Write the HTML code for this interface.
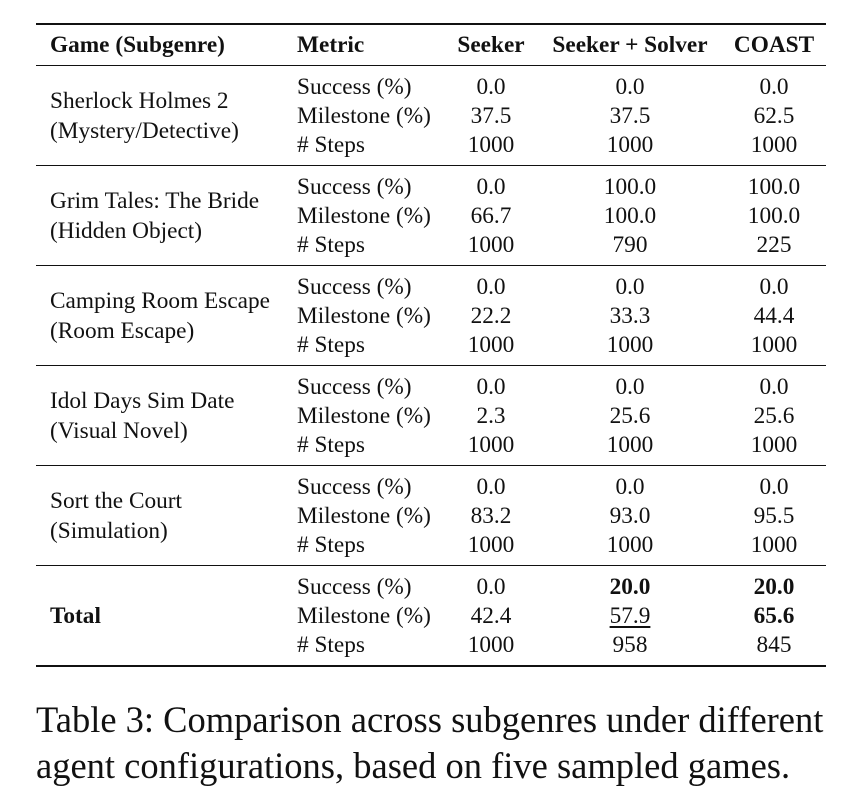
<!DOCTYPE html>
<html><head><meta charset="utf-8"><style>
body{margin:0;width:859px;height:806px;background:#fff;position:relative;font-family:"Liberation Serif","Times New Roman",serif;color:#111;overflow:hidden}
.t{position:absolute;font-size:23.3px;line-height:26px;white-space:nowrap}
.c{transform:translateX(-50%)}
.b{font-weight:bold}
.rule{position:absolute;left:36px;width:790px;background:#111}
.cap{position:absolute;left:36px;font-size:36.5px;line-height:46px;white-space:nowrap}
</style></head><body>
<div>
<div class="rule" style="top:23px;height:2px"></div>
<div class="t b" style="left:50px;top:32px">Game (Subgenre)</div>
<div class="t b" style="left:297px;top:32px">Metric</div>
<div class="t b c" style="left:491px;top:32px">Seeker</div>
<div class="t b c" style="left:630px;top:32px">Seeker + Solver</div>
<div class="t b c" style="left:774px;top:32px">COAST</div>
<div class="rule" style="top:65px;height:1px"></div>

<div class="t" style="left:50px;top:88px">Sherlock Holmes 2</div>
<div class="t" style="left:50px;top:118px">(Mystery/Detective)</div>
<div class="t" style="left:297px;top:74px">Success (%)</div>
<div class="t" style="left:297px;top:103px">Milestone (%)</div>
<div class="t" style="left:297px;top:132px"># Steps</div>
<div class="t c" style="left:491px;top:74px">0.0</div>
<div class="t c" style="left:491px;top:103px">37.5</div>
<div class="t c" style="left:491px;top:132px">1000</div>
<div class="t c" style="left:630px;top:74px">0.0</div>
<div class="t c" style="left:630px;top:103px">37.5</div>
<div class="t c" style="left:630px;top:132px">1000</div>
<div class="t c" style="left:774px;top:74px">0.0</div>
<div class="t c" style="left:774px;top:103px">62.5</div>
<div class="t c" style="left:774px;top:132px">1000</div>
<div class="rule" style="top:165px;height:1px"></div>

<div class="t" style="left:50px;top:188px">Grim Tales: The Bride</div>
<div class="t" style="left:50px;top:218px">(Hidden Object)</div>
<div class="t" style="left:297px;top:174px">Success (%)</div>
<div class="t" style="left:297px;top:203px">Milestone (%)</div>
<div class="t" style="left:297px;top:232px"># Steps</div>
<div class="t c" style="left:491px;top:174px">0.0</div>
<div class="t c" style="left:491px;top:203px">66.7</div>
<div class="t c" style="left:491px;top:232px">1000</div>
<div class="t c" style="left:630px;top:174px">100.0</div>
<div class="t c" style="left:630px;top:203px">100.0</div>
<div class="t c" style="left:630px;top:232px">790</div>
<div class="t c" style="left:774px;top:174px">100.0</div>
<div class="t c" style="left:774px;top:203px">100.0</div>
<div class="t c" style="left:774px;top:232px">225</div>
<div class="rule" style="top:265px;height:1px"></div>

<div class="t" style="left:50px;top:288px">Camping Room Escape</div>
<div class="t" style="left:50px;top:318px">(Room Escape)</div>
<div class="t" style="left:297px;top:274px">Success (%)</div>
<div class="t" style="left:297px;top:303px">Milestone (%)</div>
<div class="t" style="left:297px;top:332px"># Steps</div>
<div class="t c" style="left:491px;top:274px">0.0</div>
<div class="t c" style="left:491px;top:303px">22.2</div>
<div class="t c" style="left:491px;top:332px">1000</div>
<div class="t c" style="left:630px;top:274px">0.0</div>
<div class="t c" style="left:630px;top:303px">33.3</div>
<div class="t c" style="left:630px;top:332px">1000</div>
<div class="t c" style="left:774px;top:274px">0.0</div>
<div class="t c" style="left:774px;top:303px">44.4</div>
<div class="t c" style="left:774px;top:332px">1000</div>
<div class="rule" style="top:365px;height:1px"></div>

<div class="t" style="left:50px;top:388px">Idol Days Sim Date</div>
<div class="t" style="left:50px;top:418px">(Visual Novel)</div>
<div class="t" style="left:297px;top:374px">Success (%)</div>
<div class="t" style="left:297px;top:403px">Milestone (%)</div>
<div class="t" style="left:297px;top:432px"># Steps</div>
<div class="t c" style="left:491px;top:374px">0.0</div>
<div class="t c" style="left:491px;top:403px">2.3</div>
<div class="t c" style="left:491px;top:432px">1000</div>
<div class="t c" style="left:630px;top:374px">0.0</div>
<div class="t c" style="left:630px;top:403px">25.6</div>
<div class="t c" style="left:630px;top:432px">1000</div>
<div class="t c" style="left:774px;top:374px">0.0</div>
<div class="t c" style="left:774px;top:403px">25.6</div>
<div class="t c" style="left:774px;top:432px">1000</div>
<div class="rule" style="top:465px;height:1px"></div>

<div class="t" style="left:50px;top:488px">Sort the Court</div>
<div class="t" style="left:50px;top:518px">(Simulation)</div>
<div class="t" style="left:297px;top:474px">Success (%)</div>
<div class="t" style="left:297px;top:503px">Milestone (%)</div>
<div class="t" style="left:297px;top:532px"># Steps</div>
<div class="t c" style="left:491px;top:474px">0.0</div>
<div class="t c" style="left:491px;top:503px">83.2</div>
<div class="t c" style="left:491px;top:532px">1000</div>
<div class="t c" style="left:630px;top:474px">0.0</div>
<div class="t c" style="left:630px;top:503px">93.0</div>
<div class="t c" style="left:630px;top:532px">1000</div>
<div class="t c" style="left:774px;top:474px">0.0</div>
<div class="t c" style="left:774px;top:503px">95.5</div>
<div class="t c" style="left:774px;top:532px">1000</div>
<div class="rule" style="top:565px;height:1px"></div>

<div class="t b" style="left:50px;top:603px">Total</div>
<div class="t" style="left:297px;top:574px">Success (%)</div>
<div class="t" style="left:297px;top:603px">Milestone (%)</div>
<div class="t" style="left:297px;top:632px"># Steps</div>
<div class="t c" style="left:491px;top:574px">0.0</div>
<div class="t c" style="left:491px;top:603px">42.4</div>
<div class="t c" style="left:491px;top:632px">1000</div>
<div class="t c b" style="left:630px;top:574px">20.0</div>
<div class="t c" style="left:630px;top:603px;text-decoration:underline;text-underline-offset:3px">57.9</div>
<div class="t c" style="left:630px;top:632px">958</div>
<div class="t c b" style="left:774px;top:574px">20.0</div>
<div class="t c b" style="left:774px;top:603px">65.6</div>
<div class="t c" style="left:774px;top:632px">845</div>
<div class="rule" style="top:665px;height:2px"></div>
</div>

<div class="cap" style="top:697px">Table 3: Comparison across subgenres under different<br>agent configurations, based on five sampled games.</div>
</body></html>
